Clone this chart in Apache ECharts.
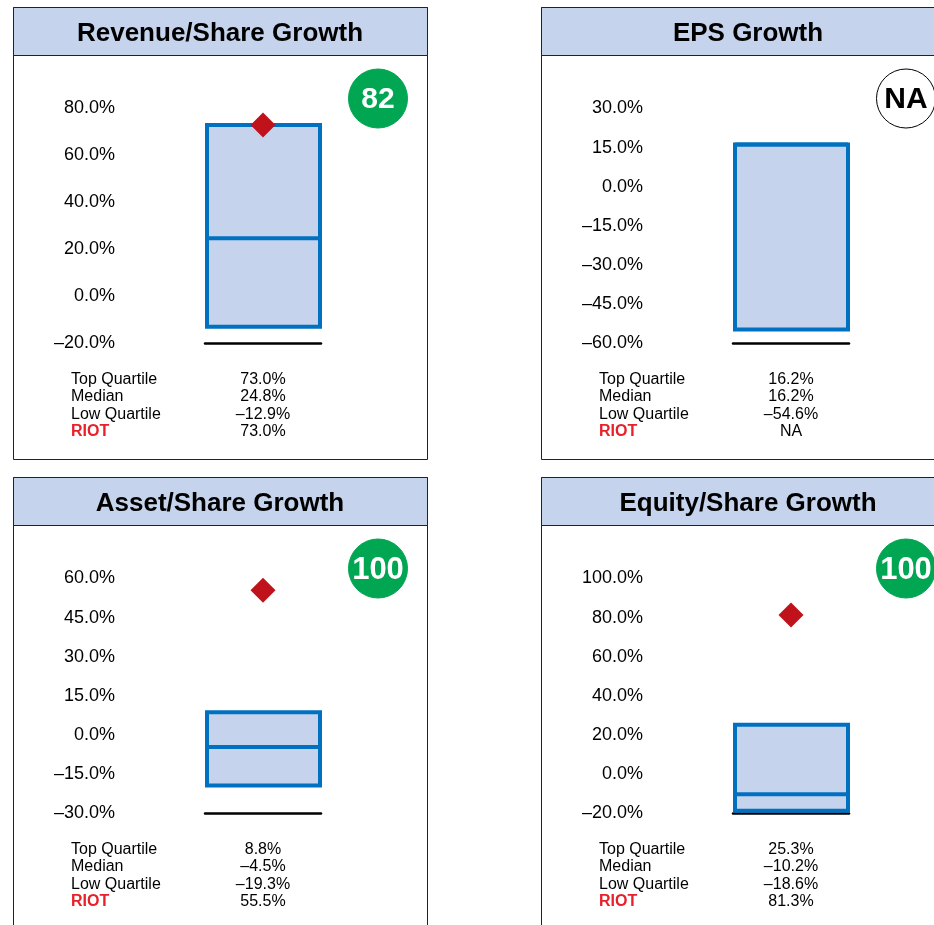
<!DOCTYPE html>
<html>
<head>
<meta charset="utf-8">
<script src="https://cdn.jsdelivr.net/npm/echarts@6/dist/echarts.min.js"></script>
<style>
  html, body { margin: 0; padding: 0; background: #fff; }
  #chart { width: 934px; height: 925px; }
</style>
</head>
<body>
<div id="chart"></div>
<script>
// panel data
var titles = ['Revenue/Share Growth', 'EPS Growth', 'Asset/Share Growth', 'Equity/Share Growth']
var topQuartile = [73.0, 16.2, 8.8, 25.3]
var median = [24.8, 16.2, -4.5, -10.2]
var lowQuartile = [-12.9, -54.6, -19.3, -18.6]
var riot = [73.0, null, 55.5, 81.3]
var scores = ['82', 'NA', '100', '100']
var axisMin = [-20, -60, -30, -20]
var axisMax = [80, 30, 60, 100]
var axisStep = [20, 15, 15, 20]
var statLabels = ['Top Quartile', 'Median', 'Low Quartile', 'RIOT']
var company = 'RIOT'

var FONT = '"Liberation Sans", Arial, Helvetica, sans-serif'
var BLUE = '#0070C0'
var FILL = '#C5D4EC'

// panel origins on the page
var panelX = [13, 541, 13, 541]
var panelY = [7, 7, 477, 477]

function pct(v) {
    if (v === null || v === undefined) return 'NA'
    return (v < 0 ? '\u2013' : '') + Math.abs(v).toFixed(1) + '%'
}

function renderBox(params, api) {
    var x = api.value(0)
    var top = api.coord([x, api.value(3)])
    var low = api.coord([x, api.value(1)])
    var mid = api.coord([x, api.value(2)])
    var w = api.size([1, 0])[0]
    var left = top[0] - w / 2 + 2
    return {
        type: 'group',
        children: [{
            type: 'rect',
            shape: { x: left, y: top[1], width: w - 3, height: low[1] - top[1] },
            style: { fill: FILL, stroke: BLUE, lineWidth: 4 }
        }, {
            type: 'line',
            shape: { x1: left, y1: mid[1], x2: left + w - 3, y2: mid[1] },
            style: { stroke: BLUE, lineWidth: 4 }
        }]
    }
}

var grids = [], xAxes = [], yAxes = [], series = [], graphics = []

titles.forEach(function (title, i) {
    var px = panelX[i], py = panelY[i]

    grids.push({ left: px + 192, top: py + 101.5, width: 116, height: 235 })
    xAxes.push({
        type: 'category', gridIndex: i, data: [''],
        axisTick: { show: false }, axisLabel: { show: false },
        axisLine: { onZero: false, lineStyle: { color: '#000', width: 2.5 } }
    })
    yAxes.push({
        type: 'value', gridIndex: i,
        min: axisMin[i], max: axisMax[i], interval: axisStep[i],
        splitLine: { show: false }, axisLine: { show: false }, axisTick: { show: false },
        axisLabel: { margin: 90, color: '#000', fontSize: 18, fontFamily: FONT, formatter: pct }
    })

    series.push({
        type: 'custom', xAxisIndex: i, yAxisIndex: i,
        renderItem: renderBox,
        encode: { x: 0, y: [1, 2, 3] },
        data: [[0, lowQuartile[i], median[i], topQuartile[i]]],
        z: 2, silent: true
    })
    if (riot[i] !== null) {
        series.push({
            type: 'scatter', xAxisIndex: i, yAxisIndex: i,
            symbol: 'diamond', symbolSize: 25,
            itemStyle: { color: '#C0121B', opacity: 1 },
            data: [[0, riot[i]]],
            z: 5, silent: true
        })
    }

    // panel frame + header
    graphics.push({
        type: 'rect', silent: true, z: -1,
        shape: { x: px + 0.5, y: py + 0.5, width: 414, height: 452 },
        style: { fill: '#fff', stroke: '#222', lineWidth: 1 }
    })
    graphics.push({
        type: 'rect', silent: true, z: 0,
        shape: { x: px + 0.5, y: py + 0.5, width: 414, height: 48 },
        style: { fill: FILL, stroke: '#222', lineWidth: 1 }
    })
    graphics.push({
        type: 'text', silent: true, z: 1,
        x: px + 207, y: py + 26.5,
        style: {
            text: title, fill: '#000', font: 'bold 26px ' + FONT,
            textAlign: 'center', textVerticalAlign: 'middle'
        }
    })

    // score badge
    var na = scores[i] === 'NA'
    graphics.push({
        type: 'circle', silent: true, z: 1,
        shape: { cx: px + 365, cy: py + 91.5, r: 29.5 },
        style: { fill: na ? '#fff' : '#00A651', stroke: na ? '#000' : '#00A651', lineWidth: 1 }
    })
    graphics.push({
        type: 'text', silent: true, z: 2,
        x: px + 365, y: py + 93,
        style: {
            text: scores[i], fill: na ? '#000' : '#fff',
            font: 'bold ' + (scores[i].length > 2 ? 31 : 30) + 'px ' + FONT,
            textAlign: 'center', textVerticalAlign: 'middle'
        }
    })

    // stats table
    var vals = [topQuartile[i], median[i], lowQuartile[i], riot[i]]
    statLabels.forEach(function (lab, r) {
        var y = py + 372.5 + r * 17.3
        var isCo = lab === company
        graphics.push({
            type: 'text', silent: true, z: 1,
            x: px + 58, y: y,
            style: {
                text: lab, fill: isCo ? '#E8202A' : '#000',
                font: (isCo ? 'bold ' : '') + '16px ' + FONT,
                textAlign: 'left', textVerticalAlign: 'middle'
            }
        })
        graphics.push({
            type: 'text', silent: true, z: 1,
            x: px + 250, y: y,
            style: {
                text: pct(vals[r]), fill: '#000', font: '16px ' + FONT,
                textAlign: 'center', textVerticalAlign: 'middle'
            }
        })
    })
})

var myChart = echarts.init(document.getElementById('chart'))
myChart.setOption({
    animation: false,
    backgroundColor: '#fff',
    grid: grids,
    xAxis: xAxes,
    yAxis: yAxes,
    series: series,
    graphic: graphics
})
</script>
</body>
</html>
